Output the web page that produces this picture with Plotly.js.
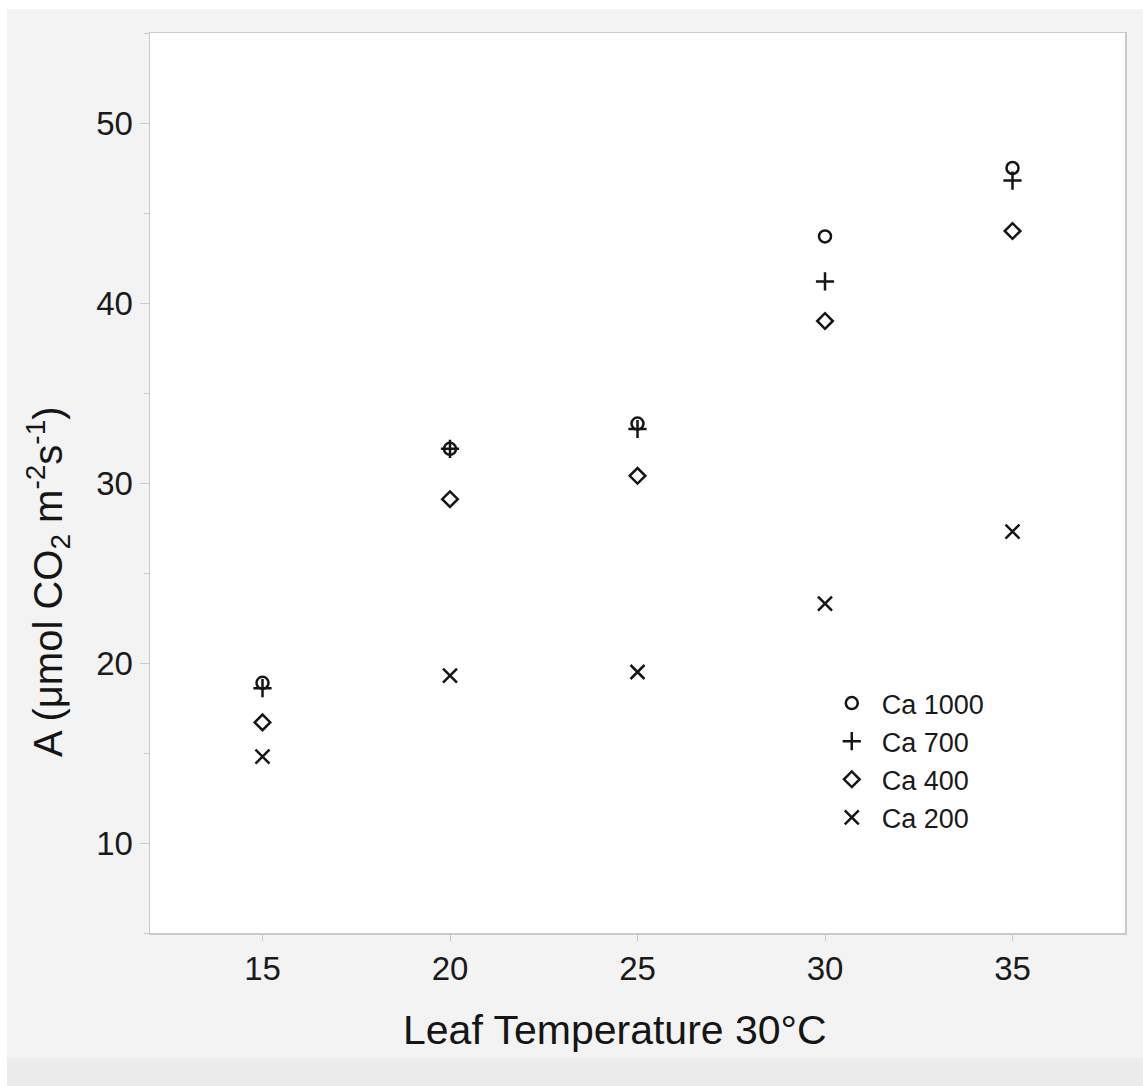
<!DOCTYPE html>
<html>
<head>
<meta charset="utf-8">
<script src="https://cdn.plot.ly/plotly-3.0.1.min.js"></script>
<style>
  body { margin: 0; background: #ffffff; }
  #chart { position: absolute; left: 7px; top: 9px; width: 1136px; height: 1049px; }
  #band { position: absolute; left: 7px; top: 1058px; width: 1136px; height: 28px; background: #ebebeb; }
</style>
</head>
<body>
<div id="chart"></div>
<div id="band"></div>
<script>
// Leaf temperature (x) and net assimilation A for each CO2 level
const temps = [15, 20, 25, 30, 35];
const ca1000 = [18.9, 31.9, 33.3, 43.7, 47.5];
const ca700 = [18.6, 31.9, 33.0, 41.2, 46.8];
const ca400 = [16.7, 29.1, 30.4, 39.0, 44.0];
const ca200 = [14.8, 19.3, 19.5, 23.3, 27.3];
const seriesNames = ['Ca 1000', 'Ca 700', 'Ca 400', 'Ca 200'];
const xTicks = [15, 20, 25, 30, 35];
const yTicks = [10, 20, 30, 40, 50];

const fontFamily = '"Liberation Sans", Arial, Helvetica, sans-serif';
const ink = '#151515';

function pointTrace(name, values, symbol, size) {
    return {
        type: 'scatter',
        mode: 'markers',
        name: name,
        x: temps,
        y: values,
        marker: {
            symbol: symbol,
            size: size,
            color: ink,
            line: { color: ink, width: 2.5 }
        }
    };
}

const data = [
    pointTrace(seriesNames[0], ca1000, 'circle-open', 12),
    pointTrace(seriesNames[1], ca700, 'cross-thin-open', 13),
    pointTrace(seriesNames[2], ca400, 'diamond-open', 12),
    pointTrace(seriesNames[3], ca200, 'x-thin-open', 14)
];

const axisLine = '#c9c9c9';

const layout = {
    width: 1136,
    height: 1049,
    margin: { t: 24, r: 18, b: 125, l: 143 },
    paper_bgcolor: '#f3f3f3',
    plot_bgcolor: '#ffffff',
    font: { family: fontFamily, color: '#1a1a1a', size: 33 },
    showlegend: true,
    legend: {
        x: 0.689,
        y: 0.2822,
        xanchor: 'left',
        yanchor: 'top',
        itemwidth: 50,
        bgcolor: 'rgba(0,0,0,0)',
        font: { size: 27, color: '#1a1a1a' }
    },
    xaxis: {
        range: [12, 38],
        tickvals: xTicks,
        ticks: 'outside',
        ticklen: 6,
        tickcolor: axisLine,
        showgrid: false,
        zeroline: false,
        showline: true,
        linecolor: axisLine,
        linewidth: 1.5,
        mirror: true,
        tickfont: { size: 33 }
    },
    yaxis: {
        range: [5, 55],
        tickvals: yTicks,
        ticks: 'outside',
        ticklen: 9,
        tickcolor: axisLine,
        minor: { dtick: 5, ticks: 'outside', ticklen: 5, tickcolor: axisLine },
        showgrid: false,
        zeroline: false,
        showline: true,
        linecolor: axisLine,
        linewidth: 1.5,
        mirror: true,
        tickfont: { size: 33 }
    },
    annotations: [
        {
            text: 'Leaf Temperature 30°C',
            xref: 'paper', yref: 'paper',
            x: 0.4774, y: -0.108,
            xanchor: 'center', yanchor: 'middle',
            showarrow: false,
            font: { size: 41, color: ink }
        },
        {
            text: 'A (μmol CO<sub>2</sub> m<sup>-2</sup>s<sup>-1</sup>)',
            xref: 'paper', yref: 'paper',
            x: -0.1045, y: 0.39,
            xanchor: 'center', yanchor: 'middle',
            textangle: -90,
            showarrow: false,
            font: { size: 40, color: ink }
        }
    ]
};

Plotly.newPlot('chart', data, layout, { displayModeBar: false, staticPlot: true });
</script>
</body>
</html>
